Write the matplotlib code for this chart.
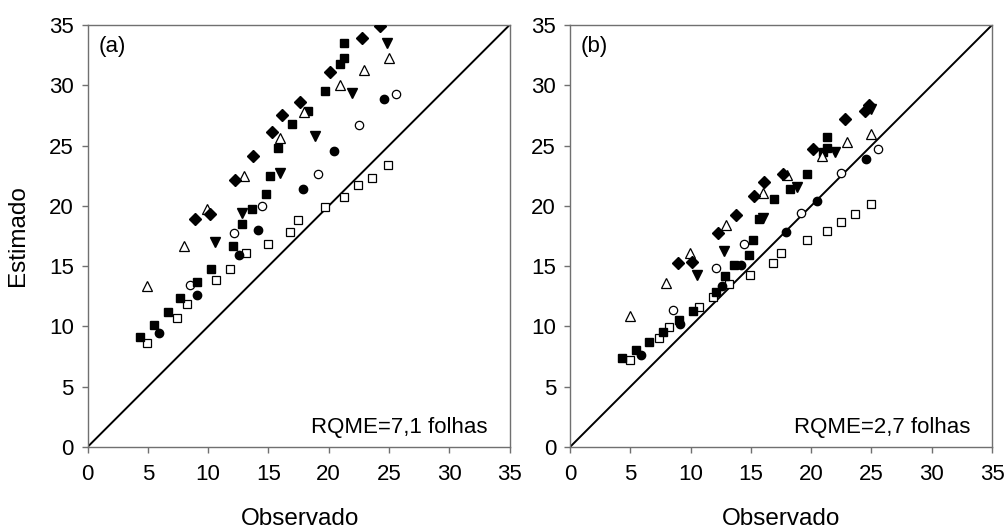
import matplotlib
matplotlib.use('Agg')
import matplotlib.pyplot as plt

plt.rcParams['font.family'] = ['Liberation Sans', 'DejaVu Sans']

# ---- painel (a) ----
a_diam_x = [8.94, 10.13, 12.26, 13.75, 15.30, 16.10, 17.62, 20.13, 22.79, 24.26]
a_diam_y = [18.9, 19.3, 22.14, 24.13, 26.09, 27.56, 28.58, 31.1, 33.94, 34.91]
a_tri_x = [4.96, 7.97, 9.91, 12.98, 15.96, 17.95, 20.94, 22.95, 24.97]
a_tri_y = [13.38, 16.69, 19.73, 22.5, 25.65, 27.75, 30.0, 31.3, 32.3]
a_tdn_x = [10.55, 12.81, 15.96, 18.90, 21.96, 24.86]
a_tdn_y = [16.97, 19.43, 22.75, 25.79, 29.4, 33.53]
a_sq_x = [4.33, 5.51, 6.65, 7.70, 9.05, 10.21, 12.06, 12.81, 13.64, 14.83, 15.10,
          15.77, 16.93, 18.26, 19.67, 20.96, 21.30, 21.30]
a_sq_y = [9.15, 10.14, 11.19, 12.36, 13.71, 14.79, 16.67, 18.52, 19.76, 21.0, 22.5,
          24.82, 26.8, 27.86, 29.5, 31.8, 32.3, 33.47]
a_circ_x = [5.90, 9.05, 12.56, 14.16, 17.90, 20.47, 24.56]
a_circ_y = [9.48, 12.6, 15.95, 17.99, 21.42, 24.54, 28.86]
a_ocirc_x = [8.47, 12.15, 14.47, 19.14, 22.49, 25.55]
a_ocirc_y = [13.41, 17.72, 20.0, 22.66, 26.73, 29.25]
a_osq_x = [4.93, 7.39, 8.22, 10.66, 11.84, 13.12, 14.97, 16.80, 17.47, 19.68,
           21.27, 22.43, 23.60, 24.94]
a_osq_y = [8.6, 10.7, 11.88, 13.87, 14.79, 16.09, 16.83, 17.8, 18.8, 19.9,
           20.76, 21.7, 22.33, 23.38]

# ---- painel (b) ----
b_diam_x = [8.93, 10.12, 12.27, 13.80, 15.30, 16.11, 17.63, 20.17, 22.80, 24.50, 24.80]
b_diam_y = [15.23, 15.37, 17.72, 19.27, 20.8, 21.97, 22.66, 24.71, 27.2, 27.9, 28.4]
b_tri_x = [4.95, 7.96, 9.98, 12.95, 15.97, 17.99, 20.94, 22.97, 24.96]
b_tri_y = [10.86, 13.6, 16.11, 18.39, 21.04, 22.55, 24.1, 25.32, 26.0]
b_tdn_x = [10.57, 12.77, 16.00, 18.85, 21.97, 25.00]
b_tdn_y = [14.26, 16.25, 19.0, 21.59, 24.43, 28.0]
b_sq_x = [4.31, 5.47, 6.58, 7.74, 9.00, 10.20, 12.08, 12.83, 13.64, 14.82, 15.15,
          15.70, 16.94, 18.24, 19.65, 21.00, 21.31, 21.31]
b_sq_y = [7.38, 8.04, 8.73, 9.51, 10.53, 11.28, 12.83, 14.2, 15.07, 15.95, 17.16,
          18.93, 20.56, 21.39, 22.66, 24.43, 24.82, 25.68]
b_circ_x = [5.89, 9.12, 12.58, 14.20, 17.88, 20.45, 24.54]
b_circ_y = [7.63, 10.2, 13.38, 15.07, 17.83, 20.4, 23.88]
b_ocirc_x = [8.51, 12.13, 14.45, 19.13, 22.48, 25.56]
b_ocirc_y = [11.33, 14.87, 16.8, 19.43, 22.75, 24.71]
b_osq_x = [4.95, 7.38, 8.21, 10.67, 11.83, 13.18, 14.95, 16.80, 17.47, 19.68,
           21.29, 22.44, 23.60, 24.93]
b_osq_y = [7.21, 9.01, 9.98, 11.64, 12.46, 13.54, 14.29, 15.29, 16.06, 17.14,
           17.94, 18.69, 19.35, 20.17]

linha_11 = [0, 35]
ticks = [0, 5, 10, 15, 20, 25, 30, 35]
paineis = ['(a)', '(b)']
rqme = ['RQME=7,1 folhas', 'RQME=2,7 folhas']

fig = plt.figure(figsize=(10.06, 5.29), dpi=100)
ax_a = fig.add_axes([0.0870, 0.1550, 0.4195, 0.7977])
ax_b = fig.add_axes([0.5666, 0.1550, 0.4195, 0.7977])

dados = [
    (a_osq_x, a_osq_y, a_ocirc_x, a_ocirc_y, a_circ_x, a_circ_y, a_sq_x, a_sq_y,
     a_tdn_x, a_tdn_y, a_tri_x, a_tri_y, a_diam_x, a_diam_y),
    (b_osq_x, b_osq_y, b_ocirc_x, b_ocirc_y, b_circ_x, b_circ_y, b_sq_x, b_sq_y,
     b_tdn_x, b_tdn_y, b_tri_x, b_tri_y, b_diam_x, b_diam_y),
]

estilos = [
    dict(marker='s', ms=6.2, mfc='white', mec='black', mew=0.9),
    dict(marker='o', ms=6.0, mfc='white', mec='black', mew=0.9),
    dict(marker='o', ms=6.0, mfc='black', mec='black'),
    dict(marker='s', ms=6.2, mfc='black', mec='black'),
    dict(marker='v', ms=7.0, mfc='black', mec='black'),
    dict(marker='^', ms=7.0, mfc='white', mec='black', mew=0.9),
    dict(marker='D', ms=6.4, mfc='black', mec='black'),
]

for i, ax in enumerate([ax_a, ax_b]):
    d = dados[i]
    ax.plot(linha_11, linha_11, color='black', lw=1.4, zorder=1)
    for k, st in enumerate(estilos):
        ax.plot(d[2 * k], d[2 * k + 1], linestyle='none', zorder=3, clip_on=True, **st)
    ax.set_xlim(0, 35)
    ax.set_ylim(0, 35)
    ax.set_xticks(ticks)
    ax.set_yticks(ticks)
    ax.tick_params(direction='out', length=4, width=1, color='#707070',
                   labelsize=16, top=False, right=False)
    ax.tick_params(axis='x', pad=8)
    ax.tick_params(axis='y', pad=6)
    for s in ax.spines.values():
        s.set_color('#707070')
        s.set_linewidth(1.0)
    ax.text(0.9, 34.1, paineis[i], fontsize=16, ha='left', va='top')
    ax.text(33.2, 1.2, rqme[i], fontsize=16, ha='right', va='baseline')

fig.text(300 / 1006, 0.019, 'Observado', fontsize=17.5, ha='center', va='center')
fig.text(781 / 1006, 0.019, 'Observado', fontsize=17.5, ha='center', va='center')
fig.text(18 / 1006, 0.554, 'Estimado', fontsize=17.5, ha='center', va='center', rotation=90)

fig.savefig('out.png', dpi=100)
